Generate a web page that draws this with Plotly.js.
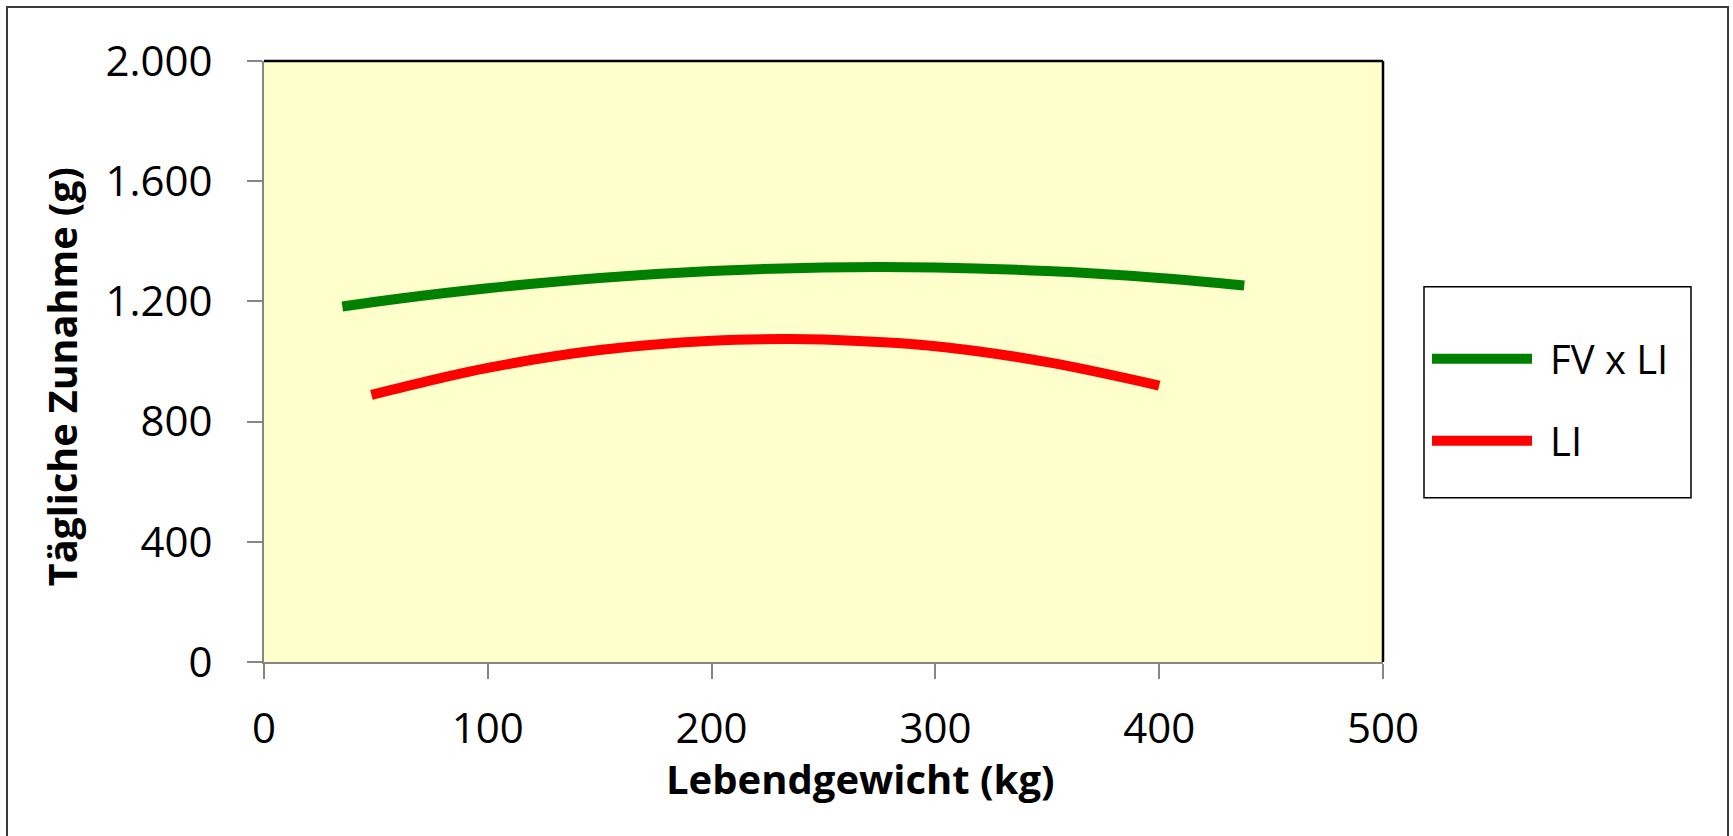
<!DOCTYPE html>
<html>
<head>
<meta charset="utf-8">
<script src="https://cdn.plot.ly/plotly-3.0.1.min.js"></script>
<style>html,body{margin:0;padding:0;background:#fff;}#chart{width:1733px;height:836px;}</style>
</head>
<body>
<div id="chart"></div>
<script>
// ---- Data ----
const seriesNames = ["FV x LI", "LI"];
const fvxliWeight = [35, 60, 100, 150, 200, 250, 300, 350, 400, 438];
const fvxliGain   = [1183, 1209, 1244, 1278, 1301, 1313, 1313, 1301, 1278, 1253];
const liWeight    = [48, 75, 100, 150, 200, 232, 250, 300, 350, 400];
const liGain      = [889, 938, 979, 1038, 1069, 1075, 1073, 1051, 998, 920];
const xTitle = "Lebendgewicht (kg)";
const yTitle = "Tägliche Zunahme (g)";

// ---- Geometry helpers (pixel -> paper) ----
const W = 1733, H = 836;
const L = 264, R = 1383, T = 61, B = 662.5;
const px = x => (x - L) / (R - L);
const py = y => (B - y) / (B - T);
const FONT = "Open Sans, Lato, Liberation Sans, sans-serif";

const traces = [
  {x: fvxliWeight, y: fvxliGain, name: seriesNames[0], type: "scatter", mode: "lines",
   line: {color: "#008000", width: 10, shape: "spline", smoothing: 1}},
  {x: liWeight, y: liGain, name: seriesNames[1], type: "scatter", mode: "lines",
   line: {color: "#FF0000", width: 10, shape: "spline", smoothing: 1}}
];

const legendLines = [
  {name: seriesNames[0], color: "#008000", y: 359},
  {name: seriesNames[1], color: "#FF0000", y: 441}
];

const shapes = [
  // outer chart border
  {type: "rect", xref: "paper", yref: "paper", x0: px(7), x1: px(1728), y0: py(7), y1: py(860),
   line: {color: "#3a3a3a", width: 2}, fillcolor: "rgba(0,0,0,0)", layer: "below"},
  // plot area top & right border
  {type: "line", xref: "paper", yref: "paper", x0: 0, x1: 1, y0: 1, y1: 1, line: {color: "#000", width: 2.5}},
  {type: "line", xref: "paper", yref: "paper", x0: 1, x1: 1, y0: 0, y1: 1, line: {color: "#000", width: 2.5}},
  // legend box
  {type: "rect", xref: "paper", yref: "paper", x0: px(1424), x1: px(1691), y0: py(287), y1: py(498),
   line: {color: "#000", width: 1.5}, fillcolor: "#fff"}
];
legendLines.forEach(l => shapes.push({type: "line", xref: "paper", yref: "paper",
  x0: px(1432), x1: px(1532), y0: py(l.y), y1: py(l.y), line: {color: l.color, width: 10}}));

const annotations = [
  {text: xTitle, xref: "paper", yref: "paper", x: px(860.5), y: py(779), xanchor: "center", yanchor: "middle",
   showarrow: false, font: {family: FONT, size: 40, color: "#000", weight: "bold"}},
  {text: yTitle, xref: "paper", yref: "paper", x: px(62), y: py(377.5), xanchor: "center", yanchor: "middle",
   textangle: -90, showarrow: false, font: {family: FONT, size: 39.5, color: "#000", weight: "bold"}}
];
legendLines.forEach(l => annotations.push({text: l.name, xref: "paper", yref: "paper",
  x: px(1548), y: py(l.y), xanchor: "left", yanchor: "middle", showarrow: false,
  font: {family: FONT, size: 40, color: "#000"}}));

const layout = {
  width: W, height: H,
  margin: {l: L, r: W - R, t: T, b: H - B, pad: 0},
  paper_bgcolor: "#fff", plot_bgcolor: "#FFFFCC",
  separators: ",.",
  showlegend: false,
  font: {family: FONT, size: 41, color: "#000"},
  xaxis: {range: [0, 500], dtick: 100, tick0: 0, showgrid: false, zeroline: false,
          showline: true, linecolor: "#868686", linewidth: 2,
          ticks: "outside", ticklen: 15, tickwidth: 2, tickcolor: "#868686",
          ticklabelstandoff: 14, tickfont: {family: FONT, size: 42, color: "#000"}, fixedrange: true},
  yaxis: {range: [0, 2000], dtick: 400, tick0: 0, tickformat: ",d", showgrid: false, zeroline: false,
          showline: true, linecolor: "#868686", linewidth: 2,
          ticks: "outside", ticklen: 15, tickwidth: 2, tickcolor: "#868686",
          ticklabelstandoff: 26, tickfont: {family: FONT, size: 42, color: "#000"}, fixedrange: true},
  shapes: shapes,
  annotations: annotations
};

Plotly.newPlot("chart", traces, layout, {displayModeBar: false, staticPlot: true});
</script>
</body>
</html>
